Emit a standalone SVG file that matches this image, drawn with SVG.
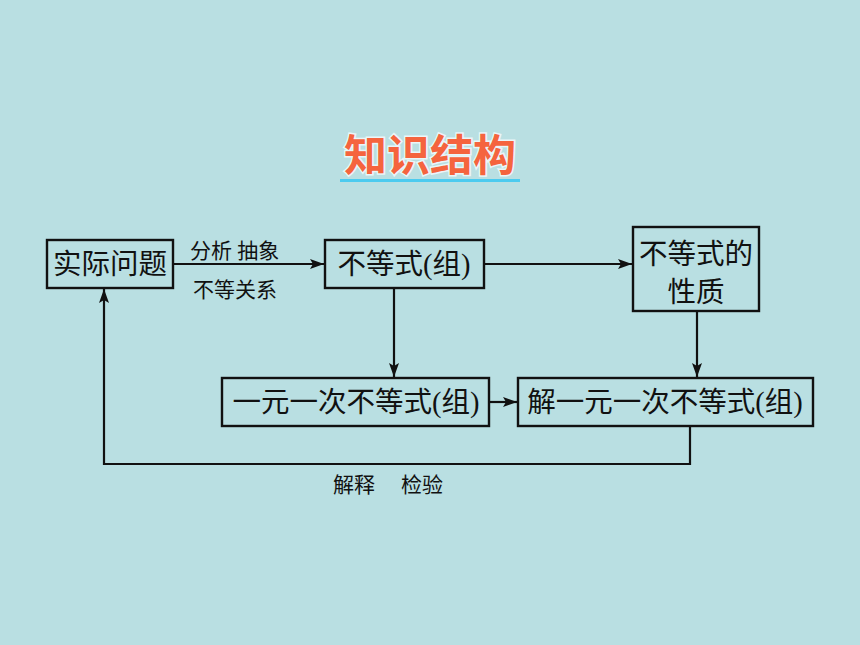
<svg xmlns="http://www.w3.org/2000/svg" width="860" height="645" viewBox="0 0 860 645">
<defs>
<style>
.box{fill:none;stroke:#111;stroke-width:2.4}
.bt{font-family:"Liberation Serif","Noto Sans CJK SC",serif;font-size:28.5px;fill:#111;text-anchor:middle;dominant-baseline:central}
.lbl{font-family:"Liberation Serif","Noto Sans CJK SC",serif;font-size:21px;fill:#111;dominant-baseline:central}
.ln{fill:none;stroke:#111;stroke-width:2.2}
.title{font-family:"Noto Sans CJK SC",sans-serif;font-weight:bold;font-size:43px;fill:#F5643E;stroke:#EAF6F8;stroke-width:3;paint-order:stroke;text-anchor:middle;dominant-baseline:central}
</style>
<marker id="ah" viewBox="0 0 14 10" refX="14" refY="5" markerWidth="14" markerHeight="10" markerUnits="userSpaceOnUse" orient="auto">
<path d="M0,0 L14,5 L0,10 L3,5 Z" fill="#111"/>
</marker>
</defs>
<rect width="860" height="645" fill="#B9DFE2"/>
<g id="title">
<text class="title" x="430" y="152">知识结构</text>
<rect x="340" y="179" width="180" height="3" fill="#4CCBEF"/>
</g>
<g id="connectors">
<line class="ln" x1="173" y1="264" x2="324" y2="264" marker-end="url(#ah)"/>
<line class="ln" x1="484" y1="264" x2="632" y2="264" marker-end="url(#ah)"/>
<line class="ln" x1="394" y1="288" x2="394" y2="377" marker-end="url(#ah)"/>
<line class="ln" x1="697" y1="311" x2="697" y2="377" marker-end="url(#ah)"/>
<line class="ln" x1="489" y1="402" x2="517" y2="402" marker-end="url(#ah)"/>
<polyline class="ln" points="690,426 690,464 104,464 104,289" marker-end="url(#ah)"/>
<text class="lbl" x="190" y="251">分析 抽象</text>
<text class="lbl" x="193" y="290">不等关系</text>
<text class="lbl" x="333" y="485">解释</text>
<text class="lbl" x="401" y="485">检验</text>
</g>
<g id="n1">
<rect class="box" x="47" y="240" width="126" height="48"/>
<text class="bt" x="110" y="264">实际问题</text>
</g>
<g id="n2">
<rect class="box" x="325" y="240" width="159" height="48"/>
<text class="bt" x="404" y="264">不等式(组)</text>
</g>
<g id="n3">
<rect class="box" x="633" y="227" width="126" height="84"/>
<text class="bt" x="696" y="254">不等式的</text>
<text class="bt" x="696" y="292">性质</text>
</g>
<g id="n4">
<rect class="box" x="222" y="378" width="267" height="48"/>
<text class="bt" x="356" y="402">一元一次不等式(组)</text>
</g>
<g id="n5">
<rect class="box" x="518" y="378" width="295" height="48"/>
<text class="bt" x="665" y="402">解一元一次不等式(组)</text>
</g>
</svg>
